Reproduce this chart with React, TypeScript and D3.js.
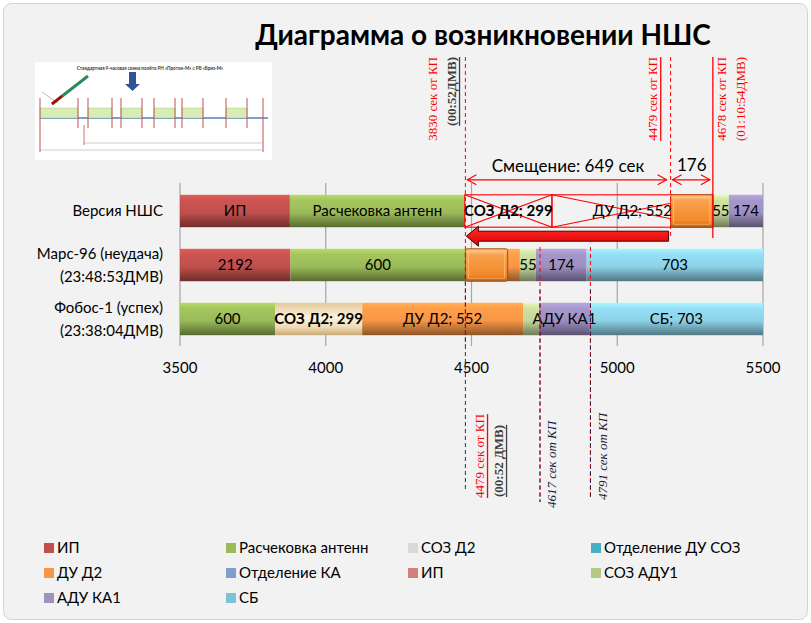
import * as d3 from "d3";
import React from "react";

// ---- data ----
const categories = ["Версия НШС", "Марс-96 (неудача)\n(23:48:53ДМВ)", "Фобос-1 (успех)\n(23:38:04ДМВ)"];
const seriesNames = ["ИП", "Расчековка антенн", "СОЗ Д2", "Отделение ДУ СОЗ", "ДУ Д2", "Отделение КА", "ИП", "СОЗ АДУ1", "АДУ КА1", "СБ"];
const legendColors = ["#c0504d", "#9bbb59", "#d9d9d9", "#4bacc6", "#f79646", "#7f9ecb", "#d0807d", "#b0c985", "#a092bd", "#7ec2d6"];
const barColors = ["#c0504d", "#9bbb59", "#d9d9d9", "#4bacc6", "#f79646", "#7f9ecb", "#d0807d", "#c3d69b", "#9d8fc0", "#8dd2e8"];

// hidden leading part of each stacked bar (before the axis starts)
const hiddenStart = [1685, 1687, 3226];
const ipValues = [2192, 2192, 0];
const raschValues = [600, 600, 600];
const sozD2Values = [299, 0, 299];
const otdDuSozValues = [0, 0, 0];
const duD2Values = [552, 187, 552];
const otdKaValues = [0, 0, 0];
const ip2Values = [0, 0, 0];
const sozAdu1Values = [55, 55, 55];
const aduKa1Values = [174, 174, 174];
const sbValues = [0, 703, 703];
const seriesValues = [ipValues, raschValues, sozD2Values, otdDuSozValues, duD2Values, otdKaValues, ip2Values, sozAdu1Values, aduKa1Values, sbValues];

const segmentLabels = [
  ["ИП", "Расчековка антенн", "СОЗ Д2; 299", "", "ДУ Д2; 552", "", "", "55", "174", ""],
  ["2192", "600", "", "", "", "", "", "55", "174", "703"],
  ["", "600", "СОЗ Д2; 299", "", "ДУ Д2; 552", "", "", "", "АДУ КА1", "СБ; 703"],
];
const boldLabels = ["СОЗ Д2; 299"];
const struckSegments = ["0-2", "0-4"]; // crossed out in the "version" bar
const texturedSegments = ["2-2"];

const xTicks = [3500, 4000, 4500, 5000, 5500];

// annotation positions on the axis
const shiftFrom = 4479;
const shiftTo = 5183;
const blockEnd = 5328;
const blockLen = 145;
const shiftSeconds = 649;
const blockSeconds = 176;
const lowerMarks = [4735, 4908];

const W = 811;
const H = 623;
const SANS = "Lato, 'Open Sans', sans-serif";
const SERIF = "'Liberation Serif', 'DejaVu Serif', serif";

const Thumb = () => {
  const boxes = [[40, 78], [88, 112], [121, 142], [154, 175], [182, 203], [226, 247]];
  const reds = [40, 78, 88, 112, 121, 142, 154, 175, 182, 203, 226, 247, 263];
  return (
    <g>
      <rect x={35} y={62} width={237} height={98} fill="#ffffff" />
      <text x={150} y={70} fontSize={4.6} fontWeight="bold" textAnchor="middle" fontFamily={SANS} fill="#333">
        Стандартная 9-часовая схема полёта РН «Протон-М» с РБ «Бриз-М»
      </text>
      <path d="M129 72 H136 V84 H140 L132.5 91 L125 84 H129 Z" fill="#2f5597" />
      <line x1={42} y1={92} x2={58} y2={103} stroke="#bbb" strokeWidth={1} />
      <line x1={52} y1={104} x2={88} y2={76} stroke="#2e8b57" strokeWidth={3} />
      <line x1={52} y1={104} x2={62} y2={96} stroke="#c00000" strokeWidth={2.5} />
      <line x1={40} y1={118} x2={268} y2={118} stroke="#4f81bd" strokeWidth={1.3} />
      {boxes.map(([a, b], i) => (
        <rect key={i} x={a} y={108} width={b - a} height={10} fill="#d8ecb5" stroke="#a6c46e" strokeWidth={0.4} />
      ))}
      {reds.map((r, i) => (
        <line key={i} x1={r} y1={98} x2={r} y2={i === 0 || i === reds.length - 1 ? 152 : 128} stroke="#c0504d" strokeWidth={1} />
      ))}
      <line x1={84} y1={143} x2={262} y2={143} stroke="#999" strokeWidth={0.5} />
      <line x1={40} y1={150} x2={262} y2={150} stroke="#999" strokeWidth={0.5} />
      <line x1={84} y1={125} x2={84} y2={145} stroke="#c0504d" strokeWidth={0.8} />
    </g>
  );
};

const RotLabel = ({ cx, y, anchor, text, color, size = 13, bold = false, italic = false, deco }: any) => (
  <text
    transform={`translate(${cx},${y}) rotate(-90)`}
    textAnchor={anchor}
    dominantBaseline="central"
    fontFamily={SERIF}
    fontSize={size}
    fontWeight={bold ? "bold" : "normal"}
    fontStyle={italic ? "italic" : "normal"}
    fill={color}
    style={deco ? { textDecoration: deco } : undefined}
  >
    {text}
  </text>
);

export default function App() {
  const x = d3.scaleLinear().domain([3500, 5500]).range([180, 763]);
  const y = d3.scaleBand<string>().domain(categories).range([184, 346]).paddingInner(0.4).paddingOuter(0.2);
  const bw = y.bandwidth();
  const [plotTop, plotBottom] = [183, 346];

  const keys = ["hidden", ...seriesNames.map((_, i) => "s" + i)];
  const table = categories.map((c, i) => {
    const row: any = { cat: c, hidden: hiddenStart[i] };
    seriesValues.forEach((vals, s) => (row["s" + s] = vals[i]));
    return row;
  });
  const stacked = d3.stack<any>().keys(keys)(table);

  const [d0, d1] = x.domain() as [number, number];
  const segments: any[] = [];
  stacked.slice(1).forEach((layer, s) => {
    layer.forEach((pt, i) => {
      const a = Math.max(pt[0], d0);
      const b = Math.min(pt[1], d1);
      if (pt[1] - pt[0] <= 0 || b <= a) return;
      segments.push({ s, i, a, b, label: segmentLabels[i][s] });
    });
  });

  const row0 = y(categories[0])!;
  const row1 = y(categories[1])!;
  const arrowY = row0 - 15;
  const bigArrowY = row0 + bw + 9;

  const openHead = (px: number, py: number, dir: number) =>
    `M${px + dir * 9},${py - 5} L${px},${py} L${px + dir * 9},${py + 5}`;

  const xa = x(shiftFrom);
  const xb = x(shiftTo);
  const xe = x(blockEnd);
  const FS = 15;

  return (
    <svg width={W} height={H} style={{ position: "absolute", left: 0, top: 0 }} fontFamily={SANS}>
      <defs>
        {barColors.map((c, i) => {
          const col = d3.color(c)!;
          return (
            <linearGradient key={i} id={"g" + i} x1="0" y1="0" x2="0" y2="1">
              <stop offset="0" stopColor={col.brighter(0.45).formatHex()} />
              <stop offset="0.18" stopColor={col.brighter(0.15).formatHex()} />
              <stop offset="0.55" stopColor={c} />
              <stop offset="1" stopColor={col.darker(1.6).formatHex()} />
            </linearGradient>
          );
        })}
        <linearGradient id="tex" x1="0" y1="0" x2="0" y2="1">
          <stop offset="0" stopColor="#e3c99a" />
          <stop offset="0.45" stopColor="#fbf1dc" />
          <stop offset="0.75" stopColor="#eedcb8" />
          <stop offset="1" stopColor="#c9a874" />
        </linearGradient>
        <linearGradient id="blk" x1="0" y1="0" x2="0" y2="1">
          <stop offset="0" stopColor="#ffc58a" />
          <stop offset="0.2" stopColor="#f9a04c" />
          <stop offset="0.8" stopColor="#f28a2a" />
          <stop offset="1" stopColor="#c0600f" />
        </linearGradient>
        <linearGradient id="redArrow" x1="0" y1="0" x2="0" y2="1">
          <stop offset="0" stopColor="#ff2a2a" />
          <stop offset="1" stopColor="#e00000" />
        </linearGradient>
      </defs>

      <rect x={0} y={0} width={W} height={H} fill="#ffffff" />
      <rect x={3.5} y={3.5} width={W - 7} height={H - 7} rx={8} fill="#f2f2f2" stroke="#d4d4d4" />

      <text x={483} y={45} textAnchor="middle" fontSize={28} fontWeight="bold" fill="#000">
        Диаграмма о возникновении НШС
      </text>

      <Thumb />

      {/* grid + axes */}
      {xTicks.slice(1).map((t) => (
        <line key={t} x1={x(t)} x2={x(t)} y1={plotTop} y2={plotBottom} stroke="#a6a6a6" strokeWidth={1.2} />
      ))}
      <line x1={x(d0)} x2={x(d0)} y1={plotTop} y2={plotBottom} stroke="#a6a6a6" strokeWidth={1.2} />
      {xTicks.map((t) => (
        <text key={t} x={x(t)} y={373} textAnchor="middle" fontSize={FS} fill="#000">
          {t}
        </text>
      ))}
      {categories.map((c) => {
        const lines = c.split("\n");
        const cy = y(c)! + bw / 2;
        return (
          <text key={c} x={163} textAnchor="end" fontSize={FS} fill="#000">
            {lines.map((l, k) => (
              <tspan key={k} x={163} y={cy + 5 + (k - (lines.length - 1) / 2) * 23}>
                {l}
              </tspan>
            ))}
          </text>
        );
      })}

      {/* bars */}
      {segments.map((sg) => {
        const key = `${sg.i}-${sg.s}`;
        const struck = struckSegments.includes(key);
        const fill = struck ? "none" : texturedSegments.includes(key) ? "url(#tex)" : `url(#g${sg.s})`;
        const yy = y(categories[sg.i])!;
        return <rect key={key} x={x(sg.a)} y={yy} width={x(sg.b) - x(sg.a)} height={bw} fill={fill} />;
      })}

      {/* struck out boxes */}
      {segments
        .filter((sg) => struckSegments.includes(`${sg.i}-${sg.s}`))
        .map((sg) => {
          const yy = y(categories[sg.i])!;
          const a = x(sg.a);
          const b = x(sg.b);
          return (
            <g key={"st" + sg.s} stroke="#ff0000" strokeWidth={1.1} fill="none">
              <rect x={a} y={yy} width={b - a} height={bw} />
              <line x1={a} y1={yy} x2={b} y2={yy + bw} />
              <line x1={a} y1={yy + bw} x2={b} y2={yy} />
            </g>
          );
        })}

      {/* moved block */}
      {[
        [shiftTo, row0],
        [shiftFrom, row1],
      ].map(([v, yy], k) => (
        <g key={k}>
          <rect x={x(v)} y={yy} width={x(v + blockLen) - x(v)} height={bw} rx={2} fill="url(#blk)" stroke="#a5520e" strokeWidth={1} />
          <rect x={x(v) + 3} y={yy + 3} width={x(v + blockLen) - x(v) - 6} height={bw - 6} fill="none" stroke="#ffd0a0" strokeOpacity={0.6} strokeWidth={1} />
        </g>
      ))}

      {/* segment labels */}
      {segments
        .filter((sg) => sg.label)
        .map((sg) => (
          <text
            key={"l" + sg.i + "-" + sg.s}
            x={(x(sg.a) + x(sg.b)) / 2}
            y={y(categories[sg.i])! + bw / 2 + 5}
            textAnchor="middle"
            fontSize={FS}
            fontWeight={boldLabels.includes(sg.label) ? "bold" : "normal"}
            fill="#000"
          >
            {sg.label}
          </text>
        ))}

      {/* annotation lines */}
      <line x1={xa} x2={xa} y1={57} y2={345} stroke="#ff0000" strokeDasharray="4,3" strokeWidth={1} />
      <line x1={xa} x2={xa} y1={275} y2={492} stroke="#1f2f7f" strokeDasharray="4,3" strokeWidth={1} />
      <line x1={xb} x2={xb} y1={57} y2={238} stroke="#ff0000" strokeDasharray="4,3" strokeWidth={1} />
      <line x1={xe} x2={xe} y1={57} y2={238} stroke="#ff0000" strokeWidth={1.3} />
      {lowerMarks.map((m, k) => (
        <g key={m}>
          <line x1={x(m)} x2={x(m)} y1={247} y2={k === 0 ? 502 : 497} stroke="#ff0000" strokeDasharray="4,3" strokeWidth={1} />
          <line x1={x(m)} x2={x(m)} y1={290} y2={k === 0 ? 502 : 497} stroke="#3a1f4f" strokeDasharray="4,3" strokeWidth={1} />
        </g>
      ))}

      {/* shift arrows */}
      <g stroke="#ff0000" strokeWidth={1.2} fill="none">
        <line x1={xa + 2} x2={xb - 4} y1={arrowY} y2={arrowY} />
        <path d={openHead(xa + 2, arrowY, 1)} />
        <path d={openHead(xb - 4, arrowY, -1)} />
        <line x1={xb + 2} x2={xe - 3} y1={arrowY} y2={arrowY} />
        <path d={openHead(xb + 2, arrowY, 1)} />
        <path d={openHead(xe - 3, arrowY, -1)} />
      </g>
      <text x={(xa + xb) / 2} y={arrowY - 8} textAnchor="middle" fontSize={17} fill="#000">
        Смещение: {shiftSeconds} сек
      </text>
      <text x={(xb + xe) / 2} y={arrowY - 9} textAnchor="middle" fontSize={17} fill="#000">
        {blockSeconds}
      </text>

      {/* big red arrow pointing left */}
      <path
        d={`M${xa + 1},${bigArrowY} L${xa + 13},${bigArrowY - 10} L${xa + 13},${bigArrowY - 5} L${xb - 2},${bigArrowY - 5} L${xb - 2},${bigArrowY + 5} L${xa + 13},${bigArrowY + 5} L${xa + 13},${bigArrowY + 10} Z`}
        fill="url(#redArrow)"
        stroke="#4a0000"
        strokeWidth={1}
      />

      {/* rotated annotation texts */}
      <RotLabel cx={xa - 33} y={57} anchor="end" text="3830 сек  от КП" color="#ff0000" />
      <RotLabel cx={xa - 14} y={57} anchor="end" text="(00:52ДМВ)" color="#404040" bold deco="underline dotted" />
      <RotLabel cx={xb - 18} y={57} anchor="end" text="4479  сек от КП" color="#ff0000" deco="underline" />
      <RotLabel cx={xe + 9} y={57} anchor="end" text="4678 сек  от КП" color="#ff0000" />
      <RotLabel cx={xe + 28} y={57} anchor="end" text="(01:10:54ДМВ)" color="#ff0000" />
      <RotLabel cx={xa + 14} y={498} anchor="start" text="4479 сек от КП" color="#ff0000" deco="underline" />
      <RotLabel cx={xa + 33} y={497} anchor="start" text="(00:52 ДМВ)" color="#404040" bold deco="underline dotted" />
      <RotLabel cx={x(lowerMarks[0]) + 11} y={508} anchor="start" text="4617 сек от КП" color="#1a1a3a" italic />
      <RotLabel cx={x(lowerMarks[1]) + 12} y={500} anchor="start" text="4791 сек от КП" color="#1a1a3a" italic />

      {/* legend */}
      {seriesNames.map((n, i) => {
        const lx = [44, 226, 408, 591][i % 4];
        const ly = 548 + Math.floor(i / 4) * 25;
        return (
          <g key={i}>
            <rect x={lx} y={ly - 5} width={10} height={10} fill={legendColors[i]} />
            <text x={lx + 13} y={ly + 5} fontSize={FS} fill="#000">
              {n}
            </text>
          </g>
        );
      })}
    </svg>
  );
}
